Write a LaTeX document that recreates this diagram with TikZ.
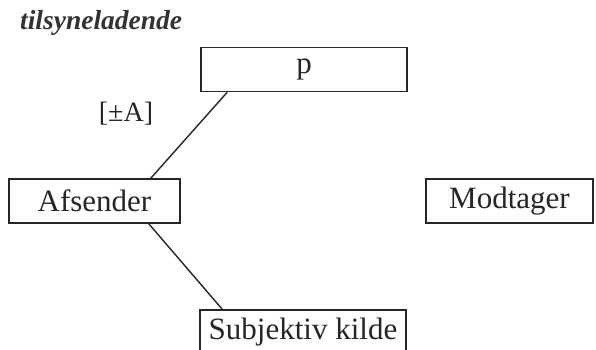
\documentclass[tikz,border=0pt]{standalone}
\usepackage{fontspec}
\setmainfont{Liberation Serif}
\tikzset{
  boxnode/.style={draw=black!85, line width=1.6pt, minimum height=44pt, inner sep=0pt, text=black!85, font=\fontsize{31}{35}\selectfont},
  link/.style={draw=black!85, line width=1.4pt},
}
\begin{document}
\begin{tikzpicture}[x=1pt,y=1pt]
\clip (0,0) rectangle (596,350);
\fill[white] (0,0) rectangle (596,350);
\node[anchor=base west, font=\fontsize{27.5}{31}\selectfont\bfseries\itshape, inner sep=0pt, text=black!80] (title) at (20,320) {tilsyneladende};
\node[boxnode, minimum width=206pt] (p) at (304,280.5) {p};
\node[anchor=base, font=\fontsize{28}{32}\selectfont, inner sep=0pt, text=black!85] (lab) at (126,228) {[±A]};
\node[boxnode, minimum width=171pt] (afs) at (94.5,149) {Afsender};
\node[boxnode, minimum width=167pt] (mod) at (509.5,149) {Modtager};
\node[boxnode, minimum width=206pt, minimum height=45pt] (kilde) at (303,17.5) {Subjektiv kilde};
\draw[link] ([xshift=27pt]p.south west) -- ([xshift=-30pt]afs.north east);
\draw[link] ([xshift=-32pt]afs.south east) -- ([xshift=23pt]kilde.north west);
\end{tikzpicture}
\end{document}
